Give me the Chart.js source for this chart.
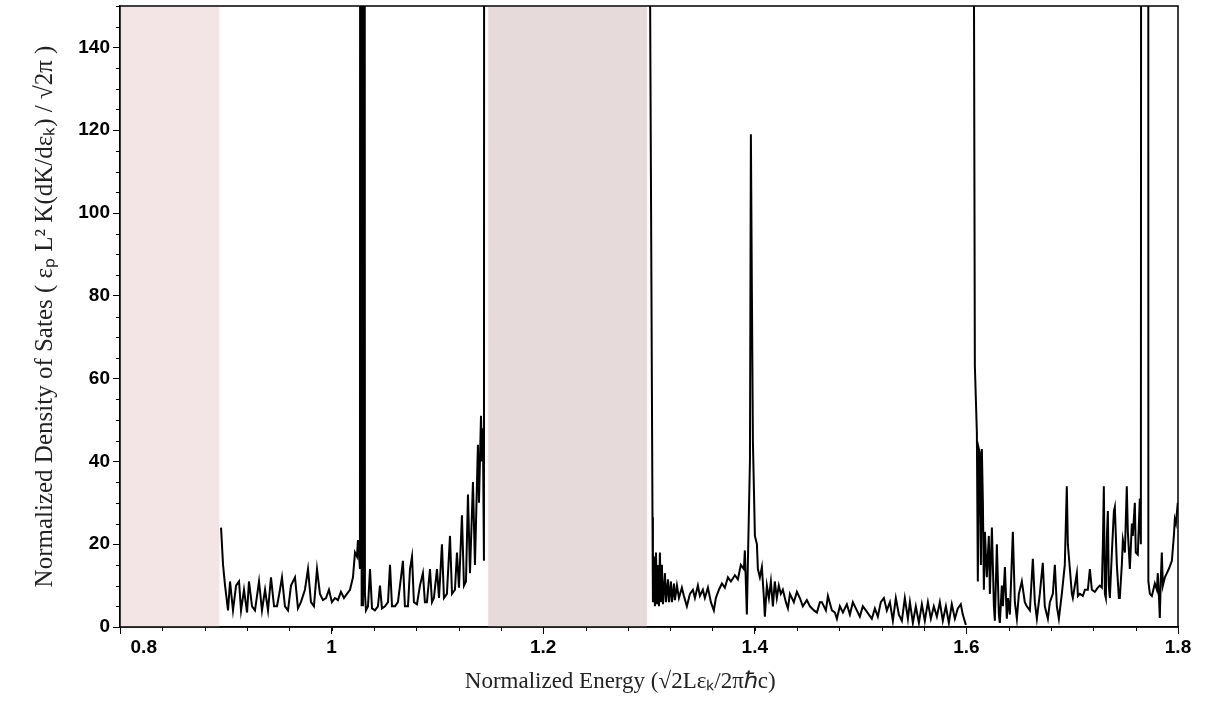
<!DOCTYPE html>
<html>
<head>
<meta charset="utf-8">
<script src="https://cdn.jsdelivr.net/npm/chart.js@4"></script>
<style>
  html, body { margin: 0; padding: 0; background: #fff; }
  #wrap { width: 1207px; height: 706px; }
</style>
</head>
<body>
<div id="wrap"><canvas id="dosChart"></canvas></div>
<script>
// band gaps (shaded)
const bandStart = [0.8, 1.148];
const bandEnd = [0.894, 1.298];
const bandColors = ['#f3e4e6', '#e6dadb'];

// tick values / labels
const xTickValues = [0.8, 1.0, 1.2, 1.4, 1.6, 1.8];
const xTickLabels = ['         0.8', '1', '1.2', '1.4', '1.6', '1.8'];
const yTickValues = [0, 20, 40, 60, 80, 100, 120, 140];
const yTickLabels = ['0', '20', '40', '60', '80', '100', '120', '140'];

// segment 1 (first allowed band)
const energyA = [0.8955, 0.8974, 0.8993, 0.9021, 0.9040, 0.9068, 0.9097, 0.9125, 0.9144, 0.9172,
  0.9201, 0.9219, 0.9248, 0.9276, 0.9314, 0.9342, 0.9371, 0.9399, 0.9427, 0.9456,
  0.9484, 0.9512, 0.9531, 0.9559, 0.9588, 0.9616, 0.9654, 0.9682, 0.9710, 0.9748,
  0.9777, 0.9805, 0.9833, 0.9862, 0.9890, 0.9918, 0.9947, 0.9975, 1.0003, 1.0032,
  1.0060, 1.0088, 1.0117, 1.0145, 1.0174, 1.0202, 1.0221, 1.0240, 1.0249, 1.0268,
  1.0277, 1.0284, 1.0290, 1.0296, 1.0303, 1.0315, 1.0325, 1.0344, 1.0363, 1.0382,
  1.0410, 1.0438, 1.0457, 1.0476, 1.0505, 1.0533, 1.0552, 1.0571, 1.0599, 1.0627,
  1.0656, 1.0674, 1.0693, 1.0722, 1.0741, 1.0760, 1.0778, 1.0807, 1.0835, 1.0863,
  1.0882, 1.0901, 1.0930, 1.0949, 1.0967, 1.0996, 1.1015, 1.1043, 1.1062, 1.1090,
  1.1119, 1.1138, 1.1166, 1.1185, 1.1204, 1.1232, 1.1251, 1.1270, 1.1289, 1.1308,
  1.1336, 1.1355, 1.1383, 1.1393, 1.1412, 1.1421, 1.1430, 1.1440, 1.1449];
const dosA = [24, 15, 10, 4, 11, 4, 10, 11, 4, 9,
  3.5, 11, 5, 4, 11, 4, 9, 4, 12, 5,
  5, 9, 12, 5, 4, 10, 12, 4.5, 6, 9,
  14, 6, 5, 14, 8, 6.5, 7, 9, 6, 7,
  6.5, 8.5, 7, 8, 9, 12, 18, 17, 21, 14,
  1000, 5, 1000, 5, 1000, 8, 4, 5, 14, 4.5,
  4, 5, 10, 4.5, 5, 6, 15, 5, 5, 6,
  12, 16, 5, 5, 14, 17, 6, 5.5, 10, 13,
  6, 6, 14, 6, 7, 14, 7, 20, 7, 8,
  22, 8, 9, 18, 9.5, 27, 10, 11, 32, 13,
  35, 15, 44, 30, 51, 40, 48, 16, 1000];

// segment 2 (second allowed band)
const energyB = [1.3009, 1.3033, 1.3037, 1.3047, 1.3056, 1.3066, 1.3075, 1.3085, 1.3094, 1.3103,
  1.3113, 1.3122, 1.3132, 1.3151, 1.3160, 1.3179, 1.3189, 1.3207, 1.3217, 1.3236,
  1.3245, 1.3264, 1.3283, 1.3311, 1.3330, 1.3358, 1.3387, 1.3415, 1.3434, 1.3462,
  1.3481, 1.3509, 1.3528, 1.3557, 1.3585, 1.3613, 1.3632, 1.3661, 1.3689, 1.3717,
  1.3746, 1.3774, 1.3812, 1.3840, 1.3868, 1.3897, 1.3906, 1.3925, 1.3935, 1.3954,
  1.3963, 1.3973, 1.3982, 1.4001, 1.4020, 1.4029, 1.4048, 1.4067, 1.4086, 1.4095,
  1.4114, 1.4133, 1.4152, 1.4171, 1.4189, 1.4208, 1.4227, 1.4246, 1.4265, 1.4294,
  1.4313, 1.4332, 1.4369, 1.4398, 1.4426, 1.4454, 1.4492, 1.4521, 1.4559, 1.4587,
  1.4615, 1.4634, 1.4672, 1.4691, 1.4729, 1.4757, 1.4776, 1.4804, 1.4833, 1.4870,
  1.4899, 1.4927, 1.4955, 1.4993, 1.5021, 1.5050, 1.5078, 1.5106, 1.5135, 1.5163,
  1.5191, 1.5220, 1.5248, 1.5277, 1.5305, 1.5333, 1.5362, 1.5390, 1.5418, 1.5447,
  1.5466, 1.5494, 1.5522, 1.5551, 1.5579, 1.5607, 1.5636, 1.5664, 1.5692, 1.5721,
  1.5749, 1.5777, 1.5806, 1.5834, 1.5862, 1.5891, 1.5919, 1.5947, 1.5966, 1.5995];
const dosB = [160, 26.5, 6, 17, 5, 18, 5.5, 15, 5, 18,
  6, 15, 5.5, 13, 6, 11.5, 6, 11, 6, 10.5,
  6.5, 10, 7, 9.5, 7.5, 5, 8, 9, 7, 10,
  7.5, 9, 7, 9.5, 6, 4, 7, 9, 10.5, 9.5,
  12, 11, 12.5, 11.5, 15, 14, 18.5, 3, 16, 40,
  119, 79, 45, 22, 20, 14, 12, 14.5, 7, 2.5,
  10, 7, 11, 5, 11, 7, 10, 8, 9, 6,
  4.5, 8, 6, 8.5, 7, 5, 6.5, 5, 4, 3.5,
  6, 6, 4, 7.5, 4, 3.5, 2, 5, 3.5, 5.5,
  3, 6, 4.5, 2.5, 5, 4, 3, 2, 4.5, 2.5,
  6, 7, 4, 6, 1.5, 7, 3, 1.5, 7, 2,
  6, 1, 5, 1, 5.5, 1.5, 6, 2, 5, 2.5,
  6, 1.5, 5, 1, 5.5, 2, 4.5, 5.5, 3, 0.5];

// segment 3 (third allowed band)
const energyC = [1.6071, 1.6080, 1.6099, 1.6108, 1.6118, 1.6127, 1.6137, 1.6146, 1.6156, 1.6165,
  1.6175, 1.6193, 1.6212, 1.6222, 1.6241, 1.6260, 1.6269, 1.6288, 1.6307, 1.6316,
  1.6335, 1.6345, 1.6364, 1.6382, 1.6392, 1.6411, 1.6439, 1.6458, 1.6477, 1.6496,
  1.6524, 1.6552, 1.6571, 1.6600, 1.6628, 1.6647, 1.6666, 1.6694, 1.6722, 1.6741,
  1.6770, 1.6789, 1.6817, 1.6836, 1.6855, 1.6874, 1.6902, 1.6930, 1.6949, 1.6959,
  1.6978, 1.6997, 1.7006, 1.7025, 1.7044, 1.7054, 1.7072, 1.7101, 1.7120, 1.7148,
  1.7167, 1.7186, 1.7214, 1.7242, 1.7261, 1.7280, 1.7290, 1.7299, 1.7309, 1.7318,
  1.7328, 1.7337, 1.7346, 1.7356, 1.7375, 1.7394, 1.7403, 1.7422, 1.7441, 1.7450,
  1.7469, 1.7479, 1.7498, 1.7516, 1.7526, 1.7545, 1.7564, 1.7573, 1.7592, 1.7601,
  1.7620, 1.7639, 1.7649, 1.7663, 1.7715, 1.7720, 1.7734, 1.7753, 1.7781, 1.7800,
  1.7809, 1.7819, 1.7828, 1.7838, 1.7847, 1.7857, 1.7876, 1.7895, 1.7913, 1.7942,
  1.7961, 1.7970, 1.7980, 1.7998];
const dosC = [160, 63, 47, 11, 43, 42, 15, 43, 30, 9,
  23, 12, 22, 8, 24, 5, 1.5, 20, 3, 1,
  10, 5, 14.5, 2, 7, 3, 23, 6, 2, 8,
  11, 6, 5, 4, 16.5, 6, 2, 8, 15.5, 5,
  2, 6, 8, 15, 5, 2, 8, 15, 34, 20,
  14, 8, 7, 10, 13, 7.5, 8, 7.5, 9, 9,
  14, 9, 8.5, 9.5, 10, 9.5, 20, 34, 8, 7,
  22, 28, 10, 7, 18, 28, 29, 15, 7, 7,
  15, 21, 18, 34, 23, 14, 25, 22, 30, 18,
  17.5, 31, 20, 1000, 1000, 11, 8, 7.5, 10.5, 9,
  13, 8, 2.2, 12, 18, 10, 12, 13, 14, 16,
  22, 26, 25, 30];

const segments = [[energyA, dosA], [energyB, dosB], [energyC, dosC]];

// shaded gaps behind the curve
const bandPlugin = {
  id: 'bands',
  beforeDatasetsDraw(chart) {
    const ctx = chart.ctx, xs = chart.scales.x, area = chart.chartArea;
    ctx.save();
    bandStart.forEach((s, i) => {
      const x0 = xs.getPixelForValue(s);
      const x1 = xs.getPixelForValue(bandEnd[i]);
      ctx.fillStyle = bandColors[i];
      ctx.fillRect(x0, area.top + 1, x1 - x0, area.bottom - area.top - 1);
    });
    ctx.restore();
  }
};

// minor ticks + box frame
const framePlugin = {
  id: 'frame',
  afterDraw(chart) {
    const ctx = chart.ctx, xs = chart.scales.x, ys = chart.scales.y, a = chart.chartArea;
    ctx.save();
    ctx.strokeStyle = '#000';
    ctx.lineWidth = 1;
    ctx.beginPath();
    for (let v = 0.84; v < 1.8; v += 0.04) {
      const px = Math.round(xs.getPixelForValue(v)) + 0.5;
      ctx.moveTo(px, a.bottom);
      ctx.lineTo(px, a.bottom + 4);
    }
    for (let v = 5; v <= 150; v += 5) {
      if (v % 20 === 0) continue;
      const py = Math.round(ys.getPixelForValue(v)) + 0.5;
      ctx.moveTo(a.left, py);
      ctx.lineTo(a.left - 4, py);
    }
    ctx.stroke();
    ctx.lineWidth = 1.5;
    ctx.strokeRect(a.left, a.top, a.right - a.left, a.bottom - a.top);
    ctx.restore();
  }
};

new Chart(document.getElementById('dosChart'), {
  type: 'line',
  data: {
    datasets: segments.map(([ex, ds]) => ({
      data: ex.map((e, i) => ({ x: e, y: ds[i] })),
      borderColor: '#000',
      borderWidth: 2,
      pointRadius: 0,
      tension: 0,
      fill: false
    }))
  },
  options: {
    responsive: true,
    maintainAspectRatio: false,
    animation: false,
    layout: { padding: { top: 6, right: 29, left: 0, bottom: 0 } },
    plugins: { legend: { display: false }, tooltip: { enabled: false } },
    scales: {
      x: {
        type: 'linear',
        min: 0.8,
        max: 1.8,
        afterBuildTicks: s => { s.ticks = xTickValues.map(v => ({ value: v })); },
        afterFit: s => { s.height = 79; s.paddingLeft = 0; s.paddingRight = 0; },
        ticks: {
          color: '#000',
          font: { family: 'Liberation Sans, Arial, sans-serif', size: 19, weight: 'bold' },
          padding: 2,
          maxRotation: 0,
          callback: (v, i) => xTickLabels[i]
        },
        grid: { drawOnChartArea: false, tickLength: 7, tickColor: '#000' },
        border: { color: '#000', width: 1.5 },
        title: {
          display: true,
          text: 'Normalized Energy (√2Lεₖ/2πℏc)\u00a0\u00a0\u00a0\u00a0\u00a0\u00a0\u00a0\u00a0\u00a0\u00a0',
          color: '#222',
          font: { family: 'Liberation Serif, Times New Roman, serif', size: 23 },
          padding: { top: 0, bottom: 10 }
        }
      },
      y: {
        min: 0,
        max: 150,
        afterBuildTicks: s => { s.ticks = yTickValues.map(v => ({ value: v })); },
        afterFit: s => { s.width = 120; s.paddingTop = 0; s.paddingBottom = 0; },
        ticks: {
          color: '#000',
          font: { family: 'Liberation Sans, Arial, sans-serif', size: 19, weight: 'bold' },
          padding: 3,
          callback: (v, i) => yTickLabels[i]
        },
        grid: { drawOnChartArea: false, tickLength: 7, tickColor: '#000' },
        border: { color: '#000', width: 1.5 },
        title: {
          display: true,
          text: 'Normalized Density of Sates ( εₚ L² K(dK/dεₖ) / √2π )',
          color: '#222',
          font: { family: 'Liberation Serif, Times New Roman, serif', size: 25 },
          padding: { top: 30, bottom: 0 }
        }
      }
    }
  },
  plugins: [bandPlugin, framePlugin]
});
</script>
</body>
</html>
